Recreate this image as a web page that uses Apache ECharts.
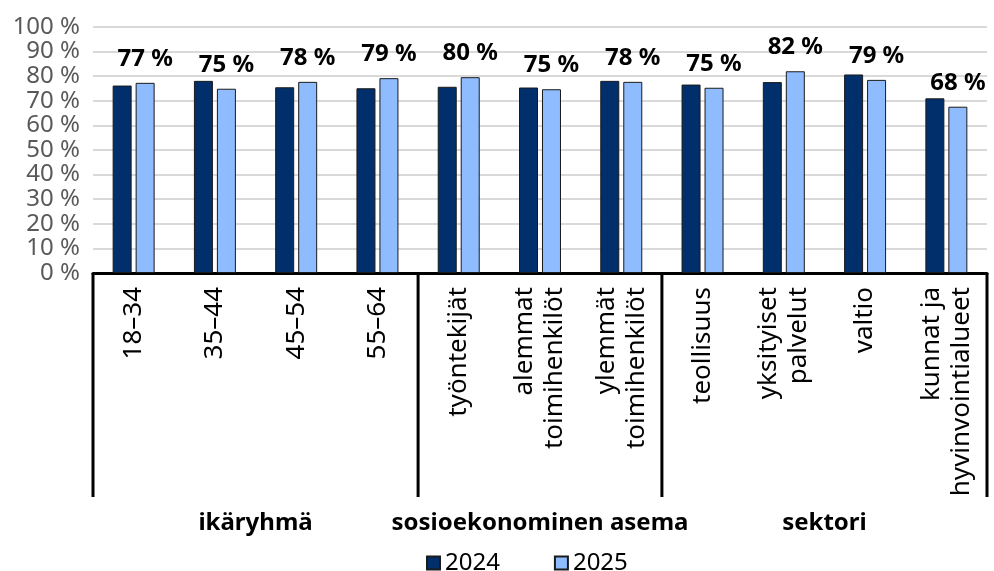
<!DOCTYPE html>
<html>
<head>
<meta charset="utf-8">
<script src="https://cdn.jsdelivr.net/npm/echarts@6/dist/echarts.min.js"></script>
<style>
  html, body { margin: 0; padding: 0; background: #fff; }
  #chart { width: 994px; height: 571px; }
</style>
</head>
<body>
<div id="chart"></div>
<script>
// luokat ja ryhmät
var categories = ['18–34', '35–44', '45–54', '55–64',
  'työntekijät', 'alemmat\ntoimihenkilöt', 'ylemmät\ntoimihenkilöt',
  'teollisuus', 'yksityiset\npalvelut', 'valtio', 'kunnat ja\nhyvinvointialueet'];
var groupNames = ['ikäryhmä', 'sosioekonominen asema', 'sektori'];
var groupSizes = [4, 3, 4];
var seriesNames = ['2024', '2025'];

// arvot (%)
var values2024 = [76.2, 78.1, 75.5, 75.1, 75.7, 75.4, 78.1, 76.6, 77.6, 80.7, 71.0];
var values2025 = [77.3, 74.9, 77.7, 79.2, 79.6, 74.7, 77.7, 75.3, 82.0, 78.5, 67.6];

var yMin = 0, yMax = 100, yStep = 10;

var chart = echarts.init(document.getElementById('chart'));

var option = {
  animation: false,
  textStyle: { fontFamily: 'Noto Sans' },
  grid: { left: 93, right: 7, top: 27, bottom: 298, containLabel: false },
  legend: {
    data: seriesNames,
    left: 421,
    top: 546,
    icon: 'rect',
    itemWidth: 13,
    itemHeight: 13,
    itemGap: 54,
    textStyle: { fontSize: 24, color: '#000', fontFamily: 'Noto Sans' }
  },
  xAxis: {
    type: 'category',
    data: categories,
    axisLine: { lineStyle: { color: '#000', width: 3 } },
    axisTick: { show: false },
    axisLabel: {
      interval: 0,
      rotate: 90,
      margin: 14,
      fontSize: 26,
      lineHeight: 30,
      color: '#000'
    }
  },
  yAxis: {
    type: 'value',
    min: yMin,
    max: yMax,
    interval: yStep,
    axisLine: { show: false },
    axisTick: { show: false },
    axisLabel: { formatter: '{value} %', fontSize: 24, color: '#595959', margin: 13 },
    splitLine: { lineStyle: { color: '#d9d9d9', width: 2 } }
  },
  series: [
    {
      name: seriesNames[0],
      type: 'bar',
      data: values2024,
      barWidth: 19,
      barGap: '21%',
      itemStyle: { color: '#002f6c', borderColor: '#1a1a1a', borderWidth: 1 }
    },
    {
      name: seriesNames[1],
      type: 'bar',
      data: values2025,
      barWidth: 19,
      barGap: '21%',
      itemStyle: { color: '#8fbcff', borderColor: '#1a1a1a', borderWidth: 1 },
      label: {
        show: true,
        position: 'top',
        distance: 12,
        fontSize: 24,
        fontWeight: 'bold',
        color: '#000',
        formatter: function (p) { return Math.round(p.value) + ' %'; }
      }
    }
  ]
};

chart.setOption(option);

// ryhmien erotinviivat ja otsikot akselin mukaan
function drawGroups() {
  var c0 = chart.convertToPixel({ xAxisIndex: 0 }, 0);
  var c1 = chart.convertToPixel({ xAxisIndex: 0 }, 1);
  var band = c1 - c0;
  var left = c0 - band / 2;
  var y0 = chart.convertToPixel({ yAxisIndex: 0 }, 0);
  var yEnd = 497;
  var edge = function (i) { return left + i * band; };
  var sep = function (x) {
    return { type: 'line', shape: { x1: x, y1: y0, x2: x, y2: yEnd },
      style: { stroke: '#000', lineWidth: 3 }, silent: true };
  };
  var els = [sep(edge(0))];
  var start = 0;
  groupSizes.forEach(function (n, g) {
    var end = start + n;
    els.push(sep(edge(end)));
    els.push({
      type: 'text',
      x: (edge(start) + edge(end)) / 2,
      y: 523,
      style: { text: groupNames[g], fill: '#000', font: 'bold 24px "Noto Sans"',
        textAlign: 'center', textVerticalAlign: 'middle' },
      silent: true
    });
    start = end;
  });
  chart.setOption({ graphic: els });
}
drawGroups();
</script>
</body>
</html>
